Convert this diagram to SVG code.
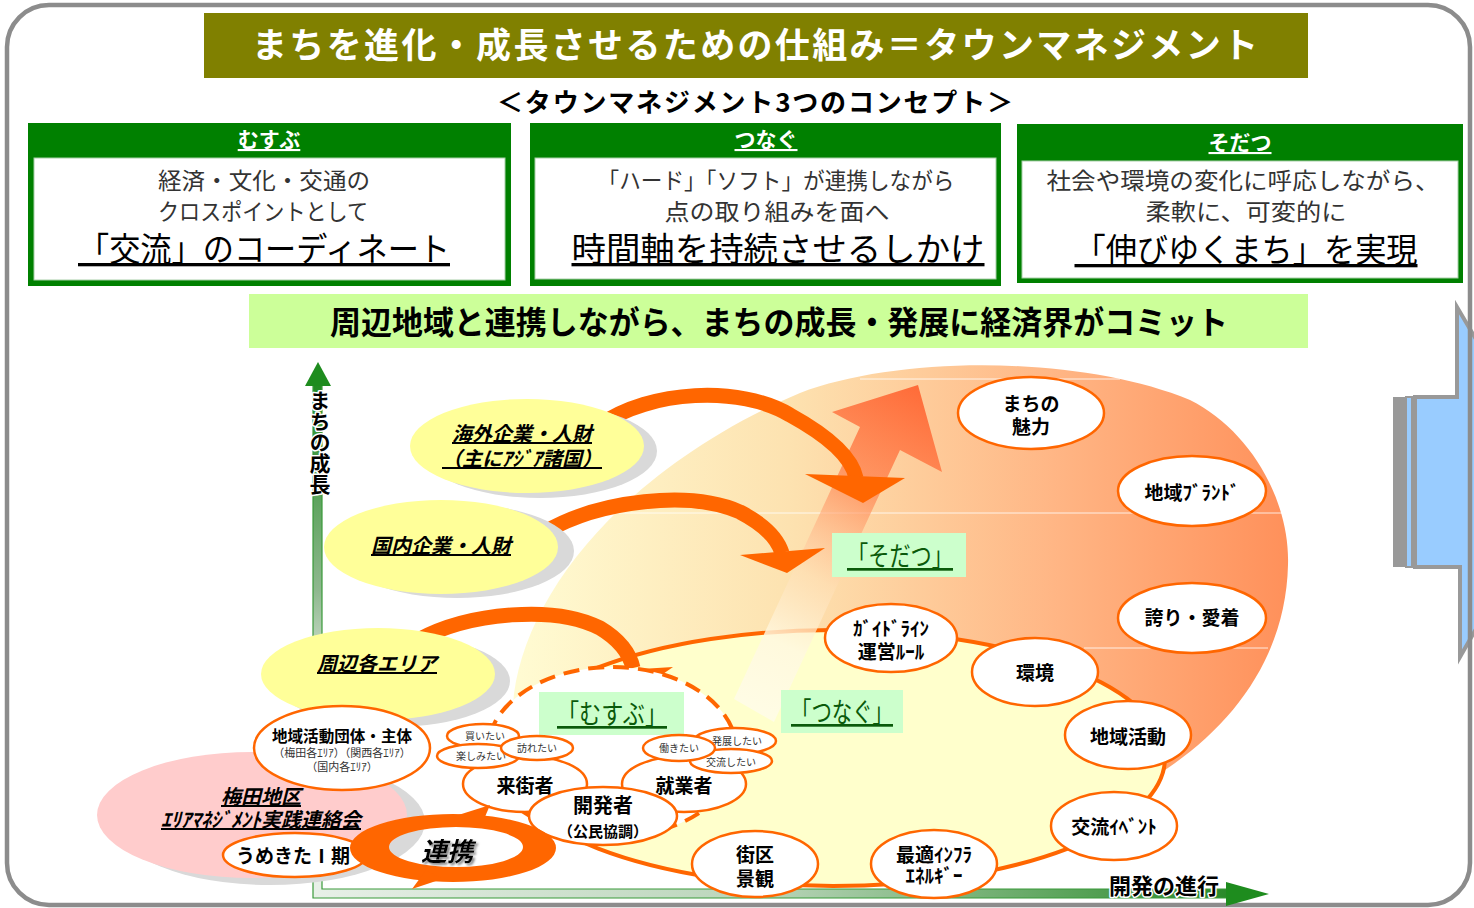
<svg xmlns="http://www.w3.org/2000/svg" width="1474" height="908" viewBox="0 0 1474 908">
<defs>
<style>
text { font-family: 'Noto Sans CJK JP','Noto Sans CJK SC',sans-serif; }
.oe { fill:#fff; stroke:#ff6600; stroke-width:2.5; }
.ye { fill:#ffff99; }
.sh { fill:#d9d9d9; }
.lbl { fill:#ccffcc; }
.halo { stroke:#fff; stroke-width:3; paint-order:stroke; stroke-linejoin:round; }
.arc { fill:none; stroke:#ff6600; stroke-width:15; }
.head { fill:#ff6600; }
.cbox { fill:#008000; }
.cin { fill:#fff; stroke:#a8cfa8; stroke-width:1; }
.ch { fill:#fff; font-size:21px; font-weight:bold; text-anchor:middle; text-decoration:underline; }
.cl { fill:#333; font-size:23px; text-anchor:middle; }
.cm { fill:#000; font-size:33px; text-anchor:middle; text-decoration:underline; }
.et { fill:#000; font-size:19px; font-weight:bold; text-anchor:middle; }
.st { fill:#333; font-size:10px; text-anchor:middle; }
.yt { fill:#000; font-size:20px; font-weight:bold; font-style:italic; text-decoration:underline; text-anchor:middle; }
.lt { fill:#0a5a0a; font-size:27px; text-anchor:middle; text-decoration:underline; }
.gl { stroke:#fff; stroke-width:1; opacity:0.8; }
</style>
<filter id="dshadow" x="-20%" y="-20%" width="140%" height="140%">
<feDropShadow dx="2" dy="2" stdDeviation="0.8" flood-color="#777" flood-opacity="0.9"/>
</filter>
<linearGradient id="peach" gradientUnits="userSpaceOnUse" x1="520" y1="0" x2="1290" y2="0">
<stop offset="0" stop-color="#fffbd2"/>
<stop offset="0.35" stop-color="#fde2b0"/>
<stop offset="0.7" stop-color="#ffb584"/>
<stop offset="1" stop-color="#ff905a"/>
</linearGradient>
<linearGradient id="bigArrow" gradientUnits="userSpaceOnUse" x1="918" y1="385" x2="754" y2="712">
<stop offset="0" stop-color="#ff6633" stop-opacity="0.95"/>
<stop offset="0.3" stop-color="#ff7a45" stop-opacity="0.7"/>
<stop offset="0.6" stop-color="#ffe0b8" stop-opacity="0.5"/>
<stop offset="0.8" stop-color="#fff8e0" stop-opacity="0.85"/>
<stop offset="1" stop-color="#fffce8" stop-opacity="0.9"/>
</linearGradient>
<linearGradient id="vgrad" gradientUnits="userSpaceOnUse" x1="0" y1="386" x2="0" y2="898">
<stop offset="0" stop-color="#228b22"/>
<stop offset="0.4" stop-color="#8fb88f"/>
<stop offset="0.6" stop-color="#e8f0e8"/>
<stop offset="1" stop-color="#e8f0e8"/>
</linearGradient>
<linearGradient id="hgrad" gradientUnits="userSpaceOnUse" x1="313" y1="0" x2="1226" y2="0">
<stop offset="0" stop-color="#e8f0e8"/>
<stop offset="0.5" stop-color="#b8d4b8"/>
<stop offset="1" stop-color="#2a8a2a"/>
</linearGradient>
</defs>

<rect x="0" y="0" width="1474" height="908" fill="#fff"/>

<g id="next-arrow">
<polygon points="1415,397 1457,397 1457,307 1560,482 1460,657 1460,567 1415,567" fill="#99ccff" stroke="#999" stroke-width="4"/>
<rect x="1393" y="397" width="12" height="170" fill="#999"/>
<rect x="1406" y="397" width="6" height="170" fill="#99ccff" stroke="#999" stroke-width="2"/>
</g>

<rect id="frame" x="7" y="5" width="1463" height="900" rx="42" fill="none" stroke="#8c8c8c" stroke-width="4.5"/>

<g id="title">
<rect x="204" y="13" width="1104" height="65" fill="#808000"/>
<text x="755" y="58" fill="#fff" font-size="35" font-weight="bold" text-anchor="middle" textLength="1006" lengthAdjust="spacing">まちを進化・成長させるための仕組み＝タウンマネジメント</text>
</g>
<text id="subtitle" x="755" y="112" fill="#000" font-size="26" font-weight="bold" text-anchor="middle" textLength="516" lengthAdjust="spacing">＜タウンマネジメント3つのコンセプト＞</text>

<g id="concept-musubu">
<rect class="cbox" x="28" y="123" width="483" height="163"/>
<rect class="cin" x="34" y="158" width="471" height="122"/>
<text class="ch" x="269" y="147">むすぶ</text>
<text class="cl" x="264" y="189" textLength="212" lengthAdjust="spacingAndGlyphs">経済・文化・交通の</text>
<text class="cl" x="263" y="220" textLength="210" lengthAdjust="spacingAndGlyphs">クロスポイントとして</text>
<text class="cm" x="264" y="261" textLength="372" lengthAdjust="spacingAndGlyphs">「交流」のコーディネート</text>
</g>
<g id="concept-tsunagu">
<rect class="cbox" x="530" y="123" width="471" height="163"/>
<rect class="cin" x="535" y="158" width="461" height="121"/>
<text class="ch" x="766" y="147">つなぐ</text>
<text class="cl" x="776" y="189" textLength="357" lengthAdjust="spacingAndGlyphs">「ハード」「ソフト」が連携しながら</text>
<text class="cl" x="777" y="220" textLength="225" lengthAdjust="spacingAndGlyphs">点の取り組みを面へ</text>
<text class="cm" x="778" y="261" textLength="413" lengthAdjust="spacingAndGlyphs">時間軸を持続させるしかけ</text>
</g>
<g id="concept-sodatsu">
<rect class="cbox" x="1017" y="124" width="446" height="159"/>
<rect class="cin" x="1022" y="161" width="436" height="117"/>
<text class="ch" x="1240" y="150">そだつ</text>
<text class="cl" x="1243" y="189" textLength="393" lengthAdjust="spacingAndGlyphs">社会や環境の変化に呼応しながら、</text>
<text class="cl" x="1246" y="220" textLength="201" lengthAdjust="spacingAndGlyphs">柔軟に、可変的に</text>
<text class="cm" x="1246" y="262" textLength="343" lengthAdjust="spacingAndGlyphs">「伸びゆくまち」を実現</text>
</g>

<g id="commit-banner">
<rect x="249" y="294" width="1059" height="54" fill="#ccff99"/>
<text x="779" y="334" fill="#000" font-size="32" font-weight="bold" text-anchor="middle" textLength="898" lengthAdjust="spacingAndGlyphs">周辺地域と連携しながら、まちの成長・発展に経済界がコミット</text>
</g>

<g id="growth-area">
<path d="M 513,705 C 520,600 620,470 800,393 C 900,355 1080,355 1190,400 C 1250,430 1290,500 1288,565 C 1286,650 1240,720 1165,770 L 1000,820 L 700,820 L 505,760 Z" fill="url(#peach)"/>
<line class="gl" x1="860" y1="379" x2="1120" y2="379"/>
<line class="gl" x1="600" y1="513" x2="1282" y2="513"/>
<line class="gl" x1="1084" y1="648" x2="1268" y2="648"/>
</g>

<g id="axes">
<rect x="313" y="386" width="9" height="512" fill="url(#vgrad)"/>
<rect x="313" y="889" width="913" height="9" fill="url(#hgrad)"/>
<path d="M313,386 V898 H1226 M322,386 V889 H1226" fill="none" stroke="#3a9a3a" stroke-width="1.2"/>
<polygon points="305,386 318,362 331,386" fill="#1e8c1e"/>
<polygon points="1226,882 1269,894 1226,906" fill="#1e8c1e"/>
</g>

<g id="tsunagu-area">
<ellipse cx="833" cy="758" rx="332" ry="128" fill="#ffffcc" stroke="#ff6600" stroke-width="4"/>
</g>

<g id="connectors">
<polygon points="734,699 860,427 832,412 918,385 942,472 900,450 774,722" fill="url(#bigArrow)"/>
<path class="arc" d="M 600,425 C 650,390 740,385 790,415 C 830,437 852,458 856,478"/>
<polygon class="head" points="805,474 905,478 863,503"/>
<path class="arc" d="M 545,532 C 600,500 690,490 740,512 C 765,525 778,540 782,553"/>
<polygon class="head" points="740,555 825,548 787,573"/>
<path class="arc" d="M 418,640 C 470,612 555,605 600,628 C 620,640 630,655 633,668"/>
<polygon class="head" points="593,672 673,667 640,690"/>
</g>

<g id="kaigai">
<ellipse class="sh" cx="540" cy="451" rx="117" ry="47"/>
<ellipse class="ye" cx="527" cy="446" rx="117" ry="47"/>
<text class="yt"><tspan x="522" y="441">海外企業・人財</tspan><tspan x="522" y="466">（主にｱｼﾞｱ諸国）</tspan></text>
</g>
<g id="kokunai">
<ellipse class="sh" cx="457" cy="551" rx="117" ry="47"/>
<ellipse class="ye" cx="441" cy="547" rx="117" ry="47"/>
<text class="yt" x="441" y="553">国内企業・人財</text>
</g>
<g id="shuhen">
<ellipse class="sh" cx="393" cy="681" rx="117" ry="46"/>
<ellipse class="ye" cx="378" cy="674" rx="117" ry="46"/>
<text class="yt" x="377" y="671">周辺各エリア</text>
</g>

<g id="musubu-area">
<ellipse cx="612" cy="752" rx="125" ry="85" fill="#fff" stroke="#ff6600" stroke-width="4" stroke-dasharray="16 9"/>
</g>

<g id="label-musubu">
<rect class="lbl" x="539" y="692" width="145" height="43"/>
<text class="lt" x="612" y="724" textLength="110" lengthAdjust="spacingAndGlyphs">「むすぶ」</text>
</g>
<g id="label-tsunagu">
<rect class="lbl" x="781" y="690" width="122" height="43"/>
<text class="lt" x="842" y="722" textLength="102" lengthAdjust="spacingAndGlyphs">「つなぐ」</text>
</g>
<g id="label-sodatsu">
<rect class="lbl" x="832" y="533" width="134" height="44"/>
<text class="lt" x="900" y="566" textLength="106" lengthAdjust="spacingAndGlyphs">「そだつ」</text>
</g>

<g id="miryoku"><ellipse class="oe" cx="1031" cy="413" rx="73" ry="36"/>
<text class="et"><tspan x="1031" y="411">まちの</tspan><tspan x="1031" y="434">魅力</tspan></text></g>
<g id="brand"><ellipse class="oe" cx="1192" cy="491" rx="74" ry="35"/>
<text class="et" x="1192" y="500">地域ﾌﾞﾗﾝﾄﾞ</text></g>
<g id="hokori"><ellipse class="oe" cx="1192" cy="618" rx="74" ry="35"/>
<text class="et" x="1192" y="625">誇り・愛着</text></g>
<g id="guideline"><ellipse class="oe" cx="891" cy="638" rx="66" ry="34"/>
<text class="et"><tspan x="891" y="636">ｶﾞｲﾄﾞﾗｲﾝ</tspan><tspan x="891" y="659">運営ﾙｰﾙ</tspan></text></g>
<g id="kankyo"><ellipse class="oe" cx="1035" cy="672" rx="63" ry="34"/>
<text class="et" x="1035" y="680">環境</text></g>
<g id="chiiki-katsudo"><ellipse class="oe" cx="1128" cy="735" rx="63" ry="34"/>
<text class="et" x="1128" y="744">地域活動</text></g>
<g id="event"><ellipse class="oe" cx="1114" cy="826" rx="63" ry="34"/>
<text class="et" x="1114" y="834">交流ｲﾍﾞﾝﾄ</text></g>
<g id="infra"><ellipse class="oe" cx="934" cy="864" rx="63" ry="34"/>
<text class="et"><tspan x="934" y="862">最適ｲﾝﾌﾗ</tspan><tspan x="934" y="883">ｴﾈﾙｷﾞｰ</tspan></text></g>
<g id="gaiku"><ellipse class="oe" cx="755" cy="864" rx="63" ry="33"/>
<text class="et"><tspan x="755" y="862">街区</tspan><tspan x="755" y="886">景観</tspan></text></g>

<g id="raigaisha"><ellipse class="oe" cx="525" cy="784" rx="62" ry="28"/>
<text class="et" x="525" y="793" font-size="20">来街者</text></g>
<g id="shugyosha"><ellipse class="oe" cx="684" cy="784" rx="62" ry="28"/>
<text class="et" x="684" y="793" font-size="20">就業者</text></g>
<g id="kaitai"><ellipse class="oe" cx="483" cy="736" rx="36" ry="12" stroke-width="1.5"/>
<text class="st" x="485" y="740">買いたい</text></g>
<g id="tanoshimitai"><ellipse class="oe" cx="478" cy="756" rx="41" ry="12" stroke-width="1.5"/>
<text class="st" x="481" y="760">楽しみたい</text></g>
<g id="otozuretai"><ellipse class="oe" cx="537" cy="748" rx="36" ry="12" stroke-width="1.5"/>
<text class="st" x="537" y="752">訪れたい</text></g>
<g id="hattentai"><ellipse class="oe" cx="735" cy="741" rx="41" ry="13" stroke-width="1.5"/>
<text class="st" x="737" y="745">発展したい</text></g>
<g id="koryutai"><ellipse class="oe" cx="731" cy="761" rx="41" ry="12" stroke-width="1.5"/>
<text class="st" x="731" y="766">交流したい</text></g>
<g id="hatarakitai"><ellipse class="oe" cx="679" cy="748" rx="36" ry="13" stroke-width="1.5"/>
<text class="st" x="679" y="752">働きたい</text></g>
<g id="kaihatsusha"><ellipse class="oe" cx="603" cy="816" rx="74" ry="29"/>
<text class="et"><tspan x="603" y="813" font-size="20">開発者</tspan><tspan x="603" y="837" font-size="15">（公民協調）</tspan></text></g>

<g id="umeda">
<ellipse class="sh" cx="270" cy="822" rx="155" ry="63"/>
<ellipse cx="252" cy="815" rx="155" ry="63" fill="#ffcccc"/>
<text class="yt" font-size="19"><tspan x="261" y="804">梅田地区</tspan><tspan x="261" y="827">ｴﾘｱﾏﾈｼﾞﾒﾝﾄ実践連絡会</tspan></text>
</g>
<g id="chiiki-dantai"><ellipse class="oe" cx="342" cy="748" rx="88" ry="42"/>
<text text-anchor="middle"><tspan x="342" y="742" font-size="16" font-weight="bold" fill="#000" textLength="140" lengthAdjust="spacingAndGlyphs">地域活動団体・主体</tspan><tspan x="342" y="757" font-size="11" fill="#333">（梅田各ｴﾘｱ）（関西各ｴﾘｱ）</tspan><tspan x="342" y="771" font-size="11" fill="#333">（国内各ｴﾘｱ）</tspan></text></g>
<g id="umekita"><ellipse class="oe" cx="295" cy="855" rx="72" ry="22"/>
<text class="et" x="293" y="863" font-size="16">うめきたⅠ期</text></g>

<g id="renkei">
<path d="M 350,848 A 103,34 0 1,0 556,848 A 103,34 0 1,0 350,848 Z M 389,847 A 67,20 0 1,0 523,847 A 67,20 0 1,0 389,847 Z" fill="#ff6600" fill-rule="evenodd"/>
<polygon points="452,817 490,805 482,824" fill="#ff6600"/>
<polygon points="442,879 412,889 426,870" fill="#ff6600"/>
<text x="447" y="861" font-size="26" font-weight="bold" font-style="italic" fill="#000" text-anchor="middle" filter="url(#dshadow)">連携</text>
</g>

<text id="axis-y-label" x="320" y="390" font-size="21" font-weight="bold" fill="#000" class="halo" style="writing-mode: vertical-rl">まちの成長</text>
<text id="axis-x-label" x="1164" y="894" font-size="22" font-weight="bold" fill="#000" text-anchor="middle" class="halo">開発の進行</text>
</svg>
